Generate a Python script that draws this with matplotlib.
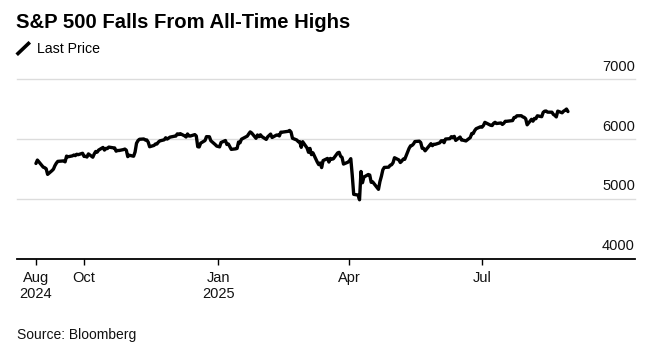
import matplotlib
matplotlib.use("Agg")
import matplotlib.pyplot as plt
from matplotlib.lines import Line2D
import pandas as pd

plt.rcParams['font.family'] = ['Liberation Sans', 'DejaVu Sans']

# S&P 500 daily closes
closes_2024_08 = [5591, 5648]
closes_2024_09 = [5529, 5520, 5503, 5408, 5471, 5496, 5554, 5596, 5626, 5633,
                  5634, 5618, 5714, 5703, 5718, 5732, 5722, 5745, 5738, 5762]
closes_2024_10 = [5709, 5710, 5699, 5751, 5696, 5751, 5792, 5780, 5815, 5859,
                  5815, 5843, 5841, 5865, 5853, 5851, 5797, 5809, 5808, 5823,
                  5832, 5813, 5705]
closes_2024_11 = [5729, 5712, 5782, 5929, 5973, 5996, 6001, 5984, 5985, 5949,
                  5871, 5893, 5917, 5917, 5949, 5969, 5987, 6021, 5999, 6032]
closes_2024_12 = [6047, 6050, 6087, 6075, 6090, 6053, 6034, 6085, 6051, 6051,
                  6074, 6051, 5872, 5867, 5931, 5975, 6040, 6038, 5971, 5907,
                  5882]
closes_2025_01 = [5869, 5942, 5975, 5909, 5918, 5827, 5836, 5843, 5950, 5937,
                  5997, 6049, 6086, 6119, 6101, 6012, 6068, 6039, 6071, 6041]
closes_2025_02 = [5994, 6037, 6061, 6083, 6026, 6066, 6068, 6052, 6115, 6115,
                  6129, 6144, 6117, 6013, 5983, 5955, 5956, 5861, 5955]
closes_2025_03 = [5850, 5778, 5843, 5739, 5770, 5615, 5572, 5599, 5522, 5639,
                  5675, 5615, 5675, 5663, 5668, 5768, 5777, 5712, 5693, 5581,
                  5612]
closes_2025_04 = [5633, 5671, 5397, 5074, 5062, 4983, 5457, 5268, 5363, 5406,
                  5397, 5276, 5283, 5158, 5288, 5376, 5485, 5525, 5529, 5561,
                  5569]
closes_2025_05 = [5604, 5687, 5650, 5607, 5631, 5664, 5660, 5844, 5886, 5892,
                  5917, 5958, 5964, 5941, 5845, 5842, 5803, 5922, 5889, 5912,
                  5912]
closes_2025_06 = [5936, 5970, 5971, 5939, 6000, 6006, 6039, 6022, 6045, 5977,
                  6033, 5983, 5981, 5968, 6025, 6093, 6092, 6141, 6173, 6205]
closes_2025_07 = [6198, 6227, 6279, 6230, 6226, 6263, 6280, 6260, 6269, 6244,
                  6264, 6297, 6297, 6306, 6309, 6359, 6363, 6389, 6390, 6371,
                  6362, 6339]
closes_2025_08 = [6238, 6330, 6299, 6345, 6340, 6389, 6374, 6446, 6466, 6469,
                  6450, 6449, 6412, 6396, 6370, 6467, 6439, 6466, 6481, 6502,
                  6460]

# market holidays in the period
holidays = ["2024-09-02", "2024-11-28", "2024-12-25", "2025-01-01", "2025-01-09",
            "2025-01-20", "2025-02-17", "2025-04-18", "2025-05-26", "2025-06-19",
            "2025-07-04"]

tick_dates = ["2024-08-29", "2024-10-01", "2025-01-01", "2025-04-01", "2025-07-01"]
tick_labels = ["Aug\n2024", "Oct", "Jan\n2025", "Apr", "Jul"]
y_ticks = [4000, 5000, 6000, 7000]

closes = (closes_2024_08 + closes_2024_09 + closes_2024_10 + closes_2024_11 +
          closes_2024_12 + closes_2025_01 + closes_2025_02 + closes_2025_03 +
          closes_2025_04 + closes_2025_05 + closes_2025_06 + closes_2025_07 +
          closes_2025_08)
dates = pd.bdate_range("2024-08-29", "2025-08-29", freq="C", holidays=holidays)

W, H = 667, 357
fig = plt.figure(figsize=(W / 100, H / 100), dpi=100)
ax = fig.add_axes([17 / W, 1 - 258.5 / H, (635 - 17) / W, (258.5 - 79.3) / H])

ax.plot(dates, closes, color="black", lw=2.4, solid_joinstyle="round",
        solid_capstyle="round", zorder=3)

ax.set_xlim(pd.Timestamp("2024-08-16"), pd.Timestamp("2025-10-14"))
ax.set_ylim(4000, 7000)

# gridlines + labels sitting on top of them
for v in y_ticks[1:]:
    ax.axhline(v, color="#dcdcdc", lw=1, zorder=1, clip_on=False)
for v in y_ticks:
    ax.annotate(str(v), xy=(1, v), xycoords=("axes fraction", "data"),
                xytext=(0, 6), textcoords="offset points",
                ha="right", va="baseline", fontsize=10.5, color="#111111")

for s in ["top", "left", "right"]:
    ax.spines[s].set_visible(False)
ax.spines["bottom"].set_linewidth(1.3)
ax.spines["bottom"].set_color("black")

ax.set_yticks([])
ax.set_xticks(pd.to_datetime(tick_dates))
ax.set_xticklabels(tick_labels, fontsize=10.5, color="#111111")
ax.tick_params(axis="x", length=4, width=1, pad=5, color="black")

fig.text(16 / W, 1 - 28 / H, "S&P 500 Falls From All-Time Highs",
         fontsize=14.6, fontweight="bold", va="baseline", ha="left")
fig.add_artist(Line2D([18 / W, 28.5 / W], [1 - 53.5 / H, 1 - 43.5 / H],
                      lw=2.6, color="black"))
fig.text(37 / W, 1 - 53 / H, "Last Price", fontsize=10.2, va="baseline", ha="left")
fig.text(17 / W, 1 - 339 / H, "Source: Bloomberg", fontsize=10,
         va="baseline", ha="left", color="#111111")

fig.savefig("out.png", dpi=100)
